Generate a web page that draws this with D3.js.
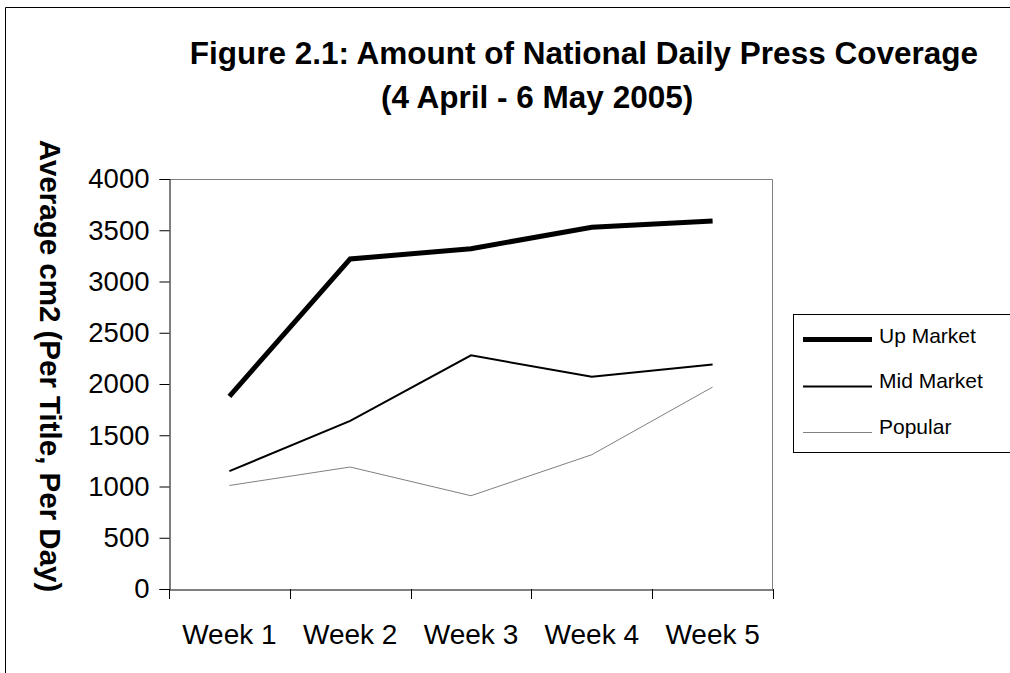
<!DOCTYPE html>
<html><head><meta charset="utf-8">
<script src="https://cdn.jsdelivr.net/npm/d3@7"></script>
<style>body{margin:0;background:#fff}svg{display:block}</style>
</head><body>
<script>
const categories = ["Week 1","Week 2","Week 3","Week 4","Week 5"];
const upMarket = [1880, 3220, 3320, 3530, 3590];
const midMarket = [1150, 1640, 2280, 2070, 2190];
const popular = [1010, 1190, 910, 1310, 1970];
const yTicks = [0,500,1000,1500,2000,2500,3000,3500,4000];
const seriesNames = ["Up Market","Mid Market","Popular"];

const W = 1010, H = 673;
const svg = d3.select("body").append("svg").attr("width", W).attr("height", H);
const font = "'Liberation Sans', Arial, sans-serif";

// outer border
svg.append("path").attr("d", "M5.5,673 V7.5 H1010").attr("fill","none").attr("stroke","#000").attr("stroke-width",1);

const L = 169, R = 773, T = 179, B = 589;
const x = d3.scaleBand().domain(categories).range([L, R]);
const y = d3.scaleLinear().domain([0, 4000]).range([B, T]);

// frame top/right gray
svg.append("path").attr("d", `M${L},${T+0.5} H${R-0.5} V${B}`).attr("fill","none").attr("stroke","#808080").attr("stroke-width",1);

// y axis
const yAxis = svg.append("g").attr("transform", `translate(${L+0.5},0)`)
  .call(d3.axisLeft(y).tickValues(yTicks).tickSize(10).tickPadding(10).tickFormat(d3.format("d")));
yAxis.select(".domain").attr("stroke","#000");
yAxis.selectAll("text").attr("font-family", font).attr("font-size", 27.5).attr("fill","#000");

// x axis
const xAxis = svg.append("g").attr("transform", `translate(0,${B+0.5})`)
  .call(d3.axisBottom(x).tickSize(0).tickPadding(34));
xAxis.select(".domain").attr("stroke","#000");
xAxis.selectAll("text").attr("font-family", font).attr("font-size", 28).attr("fill","#000")
  .attr("dy", null).attr("y", 54);
// category boundary ticks
const bounds = categories.map(c => x(c)).concat([x(categories[categories.length-1]) + x.bandwidth()]);
svg.append("g").selectAll("line").data(bounds).join("line")
  .attr("x1", d => Math.round(d)+0.5).attr("x2", d => Math.round(d)+0.5)
  .attr("y1", B).attr("y2", B+10).attr("stroke","#000");

const cx = c => x(c) + x.bandwidth()/2;
const line = d3.line().x((d,i) => cx(categories[i])).y(d => y(d));
const styles = [
  {data: upMarket, w: 5, c: "#000"},
  {data: midMarket, w: 2, c: "#000"},
  {data: popular, w: 1, c: "#808080"}
];
styles.forEach(s => {
  svg.append("path").datum(s.data).attr("d", line).attr("fill","none")
    .attr("stroke", s.c).attr("stroke-width", s.w).attr("stroke-linejoin","miter");
});

// legend
const lg = svg.append("g");
lg.append("rect").attr("x", 793.5).attr("y", 314.5).attr("width", 230).attr("height", 138)
  .attr("fill","#fff").attr("stroke","#000");
const ly = [339.5, 386.5, 432.5];
const ty = [343, 388, 434];
styles.forEach((s, i) => {
  lg.append("line").attr("x1", 803).attr("x2", 872).attr("y1", ly[i]).attr("y2", ly[i])
    .attr("stroke", s.c).attr("stroke-width", s.w);
  lg.append("text").attr("x", 879).attr("y", ty[i]).text(seriesNames[i])
    .attr("font-family", font).attr("font-size", 21).attr("fill","#000");
});

// title
const title = svg.append("text").attr("font-family", font)
  .attr("font-weight","bold").attr("font-size", 31.5).attr("fill","#000");
title.append("tspan").attr("x", 978).attr("y", 64).attr("text-anchor","end").text("Figure 2.1: Amount of National Daily Press Coverage");
title.append("tspan").attr("x", 381).attr("y", 108).attr("text-anchor","start").text("(4 April - 6 May 2005)");

// y label
svg.append("text").attr("transform", `translate(40,366) rotate(90)`).attr("text-anchor","middle")
  .attr("font-family", font).attr("font-weight","bold").attr("font-size", 29.5).attr("fill","#000")
  .text("Average cm2 (Per Title, Per Day)");
</script>
</body></html>
